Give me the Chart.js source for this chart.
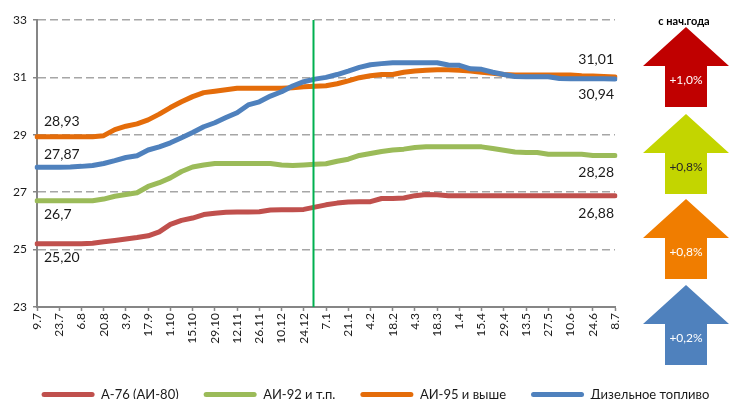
<!DOCTYPE html>
<html>
<head>
<meta charset="utf-8">
<script src="https://cdn.jsdelivr.net/npm/chart.js@4.4.0/dist/chart.umd.min.js"></script>
<style>
  html, body { margin: 0; padding: 0; background: #fff; overflow: hidden; }
  #wrap { width: 729px; height: 411px; position: relative; }
</style>
</head>
<body>
<div id="wrap"><canvas id="fuelChart"></canvas></div>
<script>
// weekly observations, 9 July -> 8 July
const weeks = ['9.7','16.7','23.7','30.7','6.8','13.8','20.8','27.8','3.9','10.9','17.9','24.9',
  '1.10','8.10','15.10','22.10','29.10','5.11','12.11','19.11','26.11','3.12','10.12','17.12',
  '24.12','31.12','7.1','14.1','21.1','28.1','4.2','11.2','18.2','25.2','4.3','11.3','18.3',
  '25.3','1.4','8.4','15.4','22.4','29.4','6.5','13.5','20.5','27.5','3.6','10.6','17.6',
  '24.6','1.7','8.7'];

const seriesNames = ['А-76 (АИ-80)', 'АИ-92 и т.п.', 'АИ-95 и выше', 'Дизельное топливо'];
const seriesColors = ['#c0504d', '#9bbb59', '#e46c0a', '#4f81bd'];

const a76 = [25.20,25.20,25.20,25.20,25.20,25.22,25.27,25.32,25.37,25.42,25.48,25.62,
  25.88,26.02,26.10,26.22,26.27,26.30,26.31,26.31,26.32,26.38,26.39,26.39,26.40,26.48,
  26.56,26.62,26.66,26.67,26.67,26.78,26.78,26.80,26.88,26.92,26.91,26.88,26.88,26.88,
  26.88,26.88,26.88,26.88,26.88,26.88,26.88,26.88,26.88,26.88,26.88,26.88,26.88];
const ai92 = [26.70,26.70,26.70,26.70,26.70,26.70,26.76,26.86,26.92,26.98,27.20,27.33,
  27.50,27.72,27.88,27.95,28.00,28.00,28.00,28.00,28.00,28.00,27.95,27.93,27.95,27.97,
  27.99,28.08,28.15,28.28,28.35,28.42,28.47,28.50,28.56,28.58,28.58,28.58,28.58,28.58,
  28.58,28.52,28.46,28.40,28.38,28.38,28.32,28.32,28.32,28.32,28.28,28.28,28.28];
const ai95 = [28.93,28.93,28.93,28.93,28.93,28.93,28.97,29.18,29.30,29.38,29.52,29.72,
  29.95,30.15,30.33,30.47,30.52,30.57,30.62,30.62,30.62,30.62,30.62,30.64,30.67,30.69,
  30.71,30.78,30.88,30.99,31.06,31.10,31.10,31.18,31.22,31.25,31.27,31.27,31.25,31.22,
  31.18,31.14,31.10,31.08,31.08,31.08,31.08,31.08,31.08,31.06,31.05,31.03,31.01];
const diesel = [27.87,27.87,27.87,27.88,27.90,27.93,28.00,28.10,28.21,28.27,28.47,28.58,
  28.72,28.90,29.08,29.28,29.42,29.60,29.77,30.04,30.15,30.35,30.50,30.70,30.85,30.94,
  31.00,31.10,31.22,31.35,31.44,31.48,31.51,31.51,31.51,31.51,31.51,31.43,31.42,31.30,
  31.28,31.18,31.10,31.03,31.02,31.02,31.02,30.96,30.95,30.95,30.95,30.95,30.94];

const seriesData = [a76, ai92, ai95, diesel];
const startDigits = [2, 1, 2, 2];   // "26,7" is printed with one decimal

const yTicks = [23, 25, 27, 29, 31, 33];

// change since the start of the year, shown as arrows on the right
const ytdChange = ['+1,0%', '+0,8%', '+0,8%', '+0,2%'];
const ytdTitle = 'с нач.года';

const FONT = 'Lato, "Open Sans", sans-serif';
const fmt = (v, d) => v.toFixed(d).replace('.', ',');

// first/last value labels next to each line
const valueLabels = {
  id: 'valueLabels',
  afterDatasetsDraw(chart) {
    const { ctx } = chart;
    const startShift = [14, 14, -15, -13];
    const endShift = [18, 17, -18, 15];
    ctx.save();
    ctx.font = '14px ' + FONT;
    ctx.fillStyle = '#1a1a1a';
    ctx.textBaseline = 'middle';
    chart.data.datasets.forEach((ds, i) => {
      const pts = chart.getDatasetMeta(i).data;
      const first = pts[0], last = pts[pts.length - 1];
      ctx.textAlign = 'left';
      ctx.fillText(fmt(ds.data[0], startDigits[i]), first.x + 7, first.y + startShift[i]);
      ctx.textAlign = 'right';
      ctx.fillText(fmt(ds.data[ds.data.length - 1], 2), last.x - 1, last.y + endShift[i]);
    });
    ctx.restore();
  }
};

// green marker at the turn of the year
const yearLine = {
  id: 'yearLine',
  afterDatasetsDraw(chart) {
    const { ctx, chartArea, scales: { x } } = chart;
    const p0 = x.getPixelForValue(24), p1 = x.getPixelForValue(25);
    const px = Math.round(p0 + (p1 - p0) * 0.8) + 0.5;
    ctx.save();
    ctx.strokeStyle = '#00b050';
    ctx.lineWidth = 2;
    ctx.beginPath();
    ctx.moveTo(px, chartArea.top);
    ctx.lineTo(px, chartArea.bottom);
    ctx.stroke();
    ctx.restore();
  }
};

// nudge the legend row a little to the right
const legendShift = {
  id: 'legendShift',
  afterLayout(chart) {
    chart.legend.left += 11;
    chart.legend.right += 11;
  }
};

// block arrows with year-to-date change
const ytdArrows = {
  id: 'ytdArrows',
  afterDraw(chart) {
    const { ctx } = chart;
    const cx = 686, headHalf = 43, shaftHalf = 21, headH = 39, totalH = 80;
    const tops = [27, 114, 199, 285];
    const fills = ['#c00000', '#c3d500', '#f07d00', '#4f81bd'];
    const inks = ['#ffffff', '#262626', '#ffffff', '#ffffff'];
    ctx.save();
    ctx.font = 'bold 11px ' + FONT;
    ctx.fillStyle = '#000';
    ctx.textAlign = 'center';
    ctx.textBaseline = 'middle';
    ctx.fillText(ytdTitle, cx - 2, 21);
    ctx.font = '12px ' + FONT;
    tops.forEach((t, i) => {
      ctx.fillStyle = fills[i];
      ctx.beginPath();
      ctx.moveTo(cx, t);
      ctx.lineTo(cx + headHalf, t + headH);
      ctx.lineTo(cx + shaftHalf, t + headH);
      ctx.lineTo(cx + shaftHalf, t + totalH);
      ctx.lineTo(cx - shaftHalf, t + totalH);
      ctx.lineTo(cx - shaftHalf, t + headH);
      ctx.lineTo(cx - headHalf, t + headH);
      ctx.closePath();
      ctx.fill();
      ctx.fillStyle = inks[i];
      ctx.fillText(ytdChange[i], cx, t + headH + 14);
    });
    ctx.restore();
  }
};

const datasets = seriesData.map((data, i) => ({
  label: seriesNames[i],
  data,
  borderColor: seriesColors[i],
  backgroundColor: seriesColors[i],
  borderWidth: 5,
  pointRadius: 0,
  tension: 0,
  borderCapStyle: 'round',
  borderJoinStyle: 'round',
  order: i === 3 ? 0 : (i === 2 ? 1 : 2),
}));

new Chart(document.getElementById('fuelChart'), {
  type: 'line',
  data: { labels: weeks, datasets },
  plugins: [yearLine, valueLabels, legendShift, ytdArrows],
  options: {
    responsive: true,
    maintainAspectRatio: false,
    animation: false,
    layout: { padding: { left: 0, top: 20, right: 0, bottom: 0 } },
    plugins: {
      tooltip: { enabled: false },
      legend: {
        position: 'bottom',
        labels: {
          font: { family: FONT, size: 13 },
          color: '#1a1a1a',
          boxWidth: 53,
          boxHeight: 5,
          padding: 25,
          useBorderRadius: true,
          borderRadius: 2.5,
          sort: (a, b) => a.datasetIndex - b.datasetIndex,
          generateLabels: chart =>
            Chart.defaults.plugins.legend.labels.generateLabels(chart).map(it => ({
              ...it, fillStyle: it.strokeStyle, strokeStyle: 'rgba(0,0,0,0)', lineWidth: 0,
            })),
        },
      },
    },
    scales: {
      x: {
        type: 'category',
        offset: false,
        afterBuildTicks: s => { s.ticks = s.ticks.filter(t => t.value % 2 === 0); },
        afterFit: s => { s.height = 56; },
        ticks: {
          autoSkip: false, maxRotation: 90, minRotation: 90, padding: 2,
          color: '#1a1a1a', font: { family: FONT, size: 12 },
        },
        grid: { drawOnChartArea: false, drawTicks: true, tickLength: 4, tickColor: '#868686', tickWidth: 1.5 },
        border: { color: '#868686', width: 2 },
      },
      y: {
        min: 23, max: 33,
        afterBuildTicks: s => { s.ticks = yTicks.map(v => ({ value: v })); },
        afterFit: s => { s.width = 37; },
        ticks: { padding: 6, color: '#1a1a1a', font: { family: FONT, size: 12 } },
        grid: {
          color: '#a6a6a6', lineWidth: 1.5, tickLength: 4,
          tickColor: '#868686', tickWidth: 1.5, tickBorderDash: [],
        },
        border: { color: '#868686', width: 2, dash: [8, 4] },
      },
      side: {
        type: 'linear',
        position: 'right',
        afterFit: s => { s.width = 114; },
        ticks: { display: false },
        grid: { display: false },
        border: { display: false },
      },
    },
  },
});
</script>
</body>
</html>
